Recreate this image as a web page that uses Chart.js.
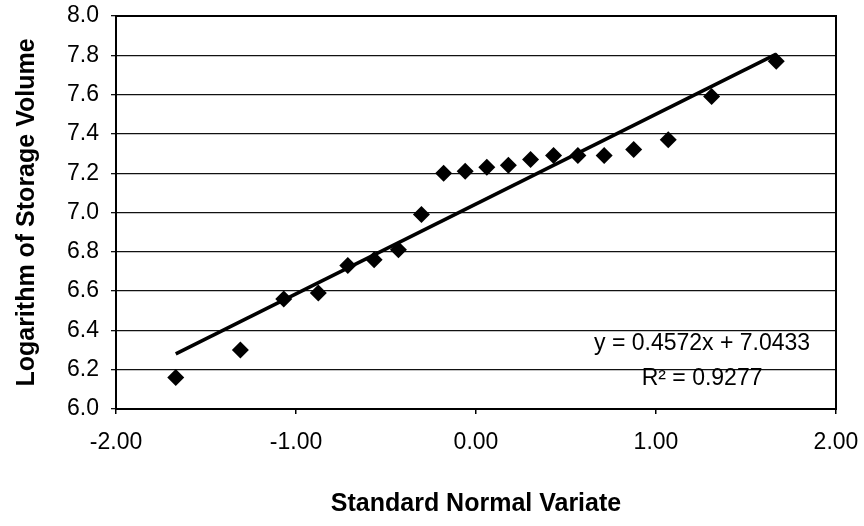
<!DOCTYPE html>
<html>
<head>
<meta charset="utf-8">
<script src="https://cdn.jsdelivr.net/npm/chart.js@4.4.1/dist/chart.umd.min.js"></script>
<style>
  html, body { margin: 0; padding: 0; background: #fff; }
  #wrap { width: 864px; height: 526px; position: relative; }
</style>
</head>
<body>
<div id="wrap"><canvas id="c" width="864" height="526"></canvas></div>
<script>
// Standard normal variate (x) of each ranked observation
const variateX = [-1.668, -1.309, -1.068, -0.876, -0.712, -0.566, -0.431, -0.303, -0.180, -0.060,
                   0.060,  0.180,  0.303,  0.431,  0.566,  0.712,  0.876,  1.068,  1.309,  1.668];
// Logarithm of storage volume (y)
const logVolume = [6.16, 6.30, 6.56, 6.59, 6.73, 6.76, 6.81, 6.99, 7.20, 7.21,
                   7.23, 7.24, 7.27, 7.29, 7.29, 7.29, 7.32, 7.37, 7.59, 7.77];
// Linear trendline endpoints (x extent of the data)
const trendX = [-1.668, 1.668];
const trendSlope = 0.4572;
const trendIntercept = 7.0433;
const trendLabels = ['y = 0.4572x + 7.0433', 'R\u00B2 = 0.9277'];
const xTicks = [-2, -1, 0, 1, 2];
const yTicks = [6.0, 6.2, 6.4, 6.6, 6.8, 7.0, 7.2, 7.4, 7.6, 7.8, 8.0];

const FONT = '"Liberation Sans", Arial, sans-serif';
const points = variateX.map((x, i) => ({ x: x, y: logVolume[i] }));
const trend = trendX.map(x => ({ x: x, y: trendSlope * x + trendIntercept }));

const frame = {
  id: 'frame',
  afterDatasetsDraw(chart) {
    const { ctx, chartArea: a } = chart;
    ctx.save();
    ctx.strokeStyle = '#000';
    ctx.lineWidth = 2;
    ctx.strokeRect(a.left, a.top, a.right - a.left, a.bottom - a.top);
    // trendline equation text
    ctx.fillStyle = '#000';
    ctx.font = '23px ' + FONT;
    ctx.textAlign = 'center';
    ctx.textBaseline = 'middle';
    const cx = a.left + (a.right - a.left) * 0.814;
    const h = a.bottom - a.top;
    ctx.fillText(trendLabels[0], cx, a.top + h * 0.835);
    ctx.fillText(trendLabels[1], cx, a.top + h * 0.922);
    ctx.restore();
  }
};

new Chart(document.getElementById('c'), {
  type: 'scatter',
  data: {
    datasets: [
      {
        label: 'Observed',
        data: points,
        pointStyle: 'rectRot',
        pointRadius: 8.5,
        pointHoverRadius: 8.5,
        backgroundColor: '#000',
        borderColor: '#000',
        borderWidth: 0,
        order: 1
      },
      {
        label: 'Linear trend',
        type: 'line',
        data: trend,
        borderColor: '#000',
        borderWidth: 3.5,
        pointRadius: 0,
        fill: false,
        order: 2
      }
    ]
  },
  options: {
    responsive: false,
    animation: false,
    events: [],
    layout: { padding: { left: 0, right: 28, top: 16, bottom: 0 } },
    plugins: { legend: { display: false }, tooltip: { enabled: false } },
    scales: {
      x: {
        type: 'linear',
        min: -2, max: 2,
        afterBuildTicks: (s) => { s.ticks = xTicks.map(v => ({ value: v })); },
        afterFit: (s) => { s.height = 117; s.paddingLeft = 0; s.paddingRight = 0; },
        ticks: {
          color: '#000',
          font: { family: FONT, size: 23 },
          padding: 15,
          maxRotation: 0,
          callback: (v) => Number(v).toFixed(2)
        },
        grid: { drawOnChartArea: false, drawTicks: true, tickLength: 5, color: '#000', lineWidth: 1.5 },
        border: { display: true, color: '#000', width: 2 },
        title: {
          display: true,
          text: 'Standard Normal Variate',
          color: '#000',
          font: { family: FONT, size: 25, weight: 'bold' },
          padding: { top: 0, bottom: 7 }
        }
      },
      y: {
        type: 'linear',
        min: 6, max: 8,
        afterBuildTicks: (s) => { s.ticks = yTicks.map(v => ({ value: v })); },
        afterFit: (s) => { s.width = 116; s.paddingTop = 0; s.paddingBottom = 0; },
        ticks: {
          color: '#000',
          font: { family: FONT, size: 23 },
          padding: 12,
          callback: (v) => Number(v).toFixed(1)
        },
        grid: { drawOnChartArea: true, drawTicks: true, tickLength: 5, color: '#111', lineWidth: 1.3 },
        border: { display: true, color: '#000', width: 2 },
        title: {
          display: true,
          text: 'Logarithm of Storage Volume',
          color: '#000',
          font: { family: FONT, size: 25, weight: 'bold' },
          padding: { top: 12, bottom: 0 }
        }
      }
    }
  },
  plugins: [frame]
});
</script>
</body>
</html>
